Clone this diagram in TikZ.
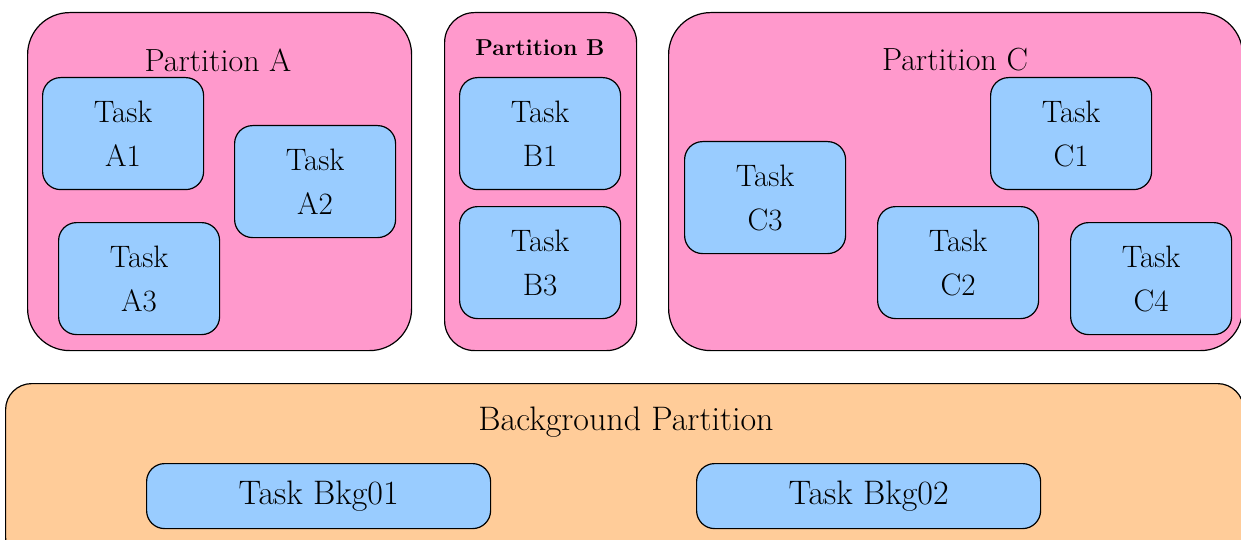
\documentclass[tikz,border=0pt]{standalone}
\usepackage{fontspec}
\tikzset{
  partbox/.style={draw=black, line width=1.2pt, fill=partpink, rounded corners=42pt,
                  anchor=north west, inner sep=0pt},
  bkgbox/.style={draw=black, line width=1.2pt, fill=bkgorange, rounded corners=26pt,
                 anchor=north west, inner sep=0pt},
  taskbox/.style={draw=black, line width=1.2pt, fill=taskblue, rounded corners=18pt,
                  anchor=north west, inner sep=0pt, align=center,
                  minimum width=161pt, minimum height=112pt,
                  font=\fontsize{31}{44}\selectfont},
  widetask/.style={taskbox, minimum width=344pt, minimum height=65pt,
                   font=\fontsize{34}{40}\selectfont},
  title/.style={font=\fontsize{32}{36}\selectfont},
}
\definecolor{partpink}{HTML}{FF99CC}
\definecolor{taskblue}{HTML}{99CCFF}
\definecolor{bkgorange}{HTML}{FFCC99}
\begin{document}
\begin{tikzpicture}[x=1pt, y=-1pt]
\useasboundingbox (0,0) rectangle (1241,540);

% Partition A
\node[partbox, minimum width=384pt, minimum height=338pt] (pa) at (27,12) {};
\node[title] (pat) at (218,60) {Partition A};
\node[taskbox] (a1) at (42,77) {Task\\A1};
\node[taskbox] (a2) at (234,125) {Task\\A2};
\node[taskbox] (a3) at (58,222) {Task\\A3};

% Partition B
\node[partbox, rounded corners=30pt, minimum width=192pt, minimum height=338pt] (pb) at (444,12) {};
\node[title, font=\fontsize{23}{26}\selectfont\bfseries] (pbt) at (540,48) {Partition B};
\node[taskbox] (b1) at (459,77) {Task\\B1};
\node[taskbox] (b3) at (459,206) {Task\\B3};

% Partition C
\node[partbox, minimum width=574pt, minimum height=338pt] (pc) at (668,12) {};
\node[title] (pct) at (955,60) {Partition C};
\node[taskbox] (c1) at (990,77) {Task\\C1};
\node[taskbox] (c3) at (684,141) {Task\\C3};
\node[taskbox] (c2) at (877,206) {Task\\C2};
\node[taskbox] (c4) at (1070,222) {Task\\C4};

% Background partition
\node[bkgbox, minimum width=1238pt, minimum height=180pt] (bg) at (5,383) {};
\node[title, font=\fontsize{34}{40}\selectfont] (bgt) at (626,422) {Background Partition};
\node[widetask] (k1) at (146,463) {Task Bkg01};
\node[widetask] (k2) at (696,463) {Task Bkg02};
\end{tikzpicture}
\end{document}
